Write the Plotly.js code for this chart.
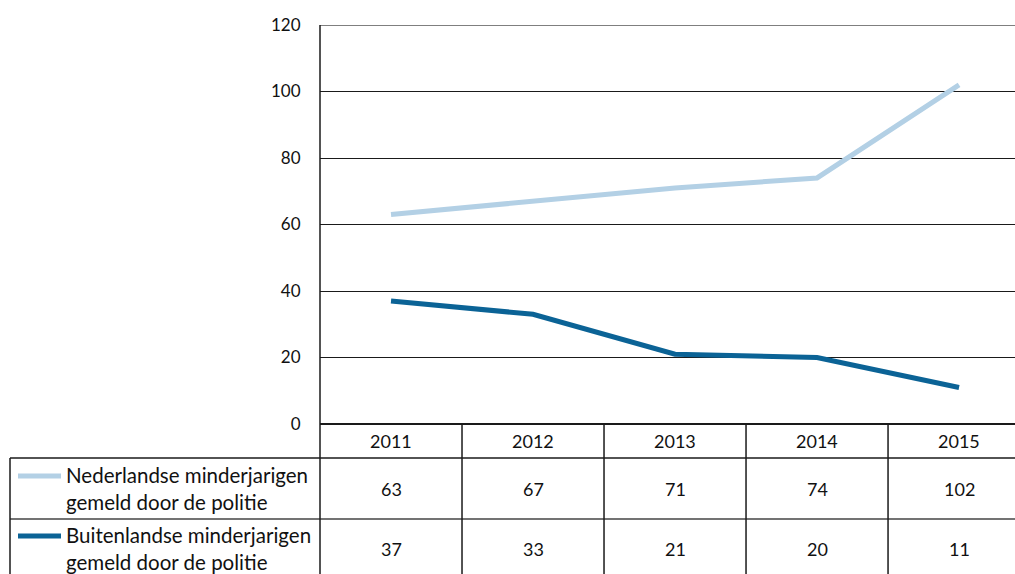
<!DOCTYPE html>
<html><head><meta charset="utf-8">
<script src="https://cdn.plot.ly/plotly-3.0.1.min.js"></script>
<style>html,body{margin:0;padding:0;background:#fff;}#chart{width:1015px;height:574px;}</style>
</head><body><div id="chart"></div>
<script>
var years = ['2011','2012','2013','2014','2015'];
var seriesNames = ['Nederlandse minderjarigen<br>gemeld door de politie','Buitenlandse minderjarigen<br>gemeld door de politie'];
var nederlandse = [63, 67, 71, 74, 102];
var buitenlandse = [37, 33, 21, 20, 11];
var yTicks = [0, 20, 40, 60, 80, 100, 120];

var colors = ['#b3d0e5', '#0b6396'];
var allSeries = [nederlandse, buitenlandse];
var xIdx = years.map(function(_, i){ return i; });

var traces = allSeries.map(function(vals, k){
  return {x: xIdx, y: vals, type: 'scatter', mode: 'lines', name: seriesNames[k],
    line: {color: colors[k], width: 5}, hoverinfo: 'skip'};
});

var plotH = 399, plotL = 320, plotW = 695;
function py(pix){ return (424 - pix) / plotH; }
function px(pix){ return (pix - plotL) / plotW; }

var rowTop = py(458), rowMid = py(519), rowBot = py(600);
var legL = px(10);
var lineC = '#1a1a1a';
var shapes = [];
shapes.push({type:'line', xref:'paper', yref:'y', x0:0, x1:1.02, y0:120, y1:120, line:{color:'#555', width:1.5}});
shapes.push({type:'line', xref:'paper', yref:'paper', x0:legL, x1:1.02, y0:rowTop, y1:rowTop, line:{color:lineC, width:1.5}});
shapes.push({type:'line', xref:'paper', yref:'paper', x0:legL, x1:1.02, y0:rowMid, y1:rowMid, line:{color:'#444', width:1.5}});
shapes.push({type:'line', xref:'paper', yref:'paper', x0:legL, x1:legL, y0:rowTop, y1:rowBot, line:{color:lineC, width:1.5}});
shapes.push({type:'line', xref:'paper', yref:'paper', x0:0, x1:0, y0:rowBot, y1:1, line:{color:lineC, width:1.5}});
for (var i = 0; i < years.length; i++) {
  shapes.push({type:'line', xref:'x', yref:'paper', x0:i+0.5, x1:i+0.5, y0:rowBot, y1:0, line:{color:lineC, width:1.5}});
}
for (var k = 0; k < 2; k++) {
  var yy = k === 0 ? py(476) : py(536);
  shapes.push({type:'line', xref:'paper', yref:'paper', x0:px(18), x1:px(61), y0:yy, y1:yy, line:{color:colors[k], width:5}});
}

var annotations = [];
var fam = 'Lato, "Open Sans", sans-serif';
var fontTxt = {family:fam, size:18, color:'#111'};
years.forEach(function(yr, i){
  annotations.push({xref:'x', yref:'paper', x:i, y:py(441), text:yr, showarrow:false, font:fontTxt, xanchor:'center', yanchor:'middle'});
  annotations.push({xref:'x', yref:'paper', x:i, y:py(489), text:String(nederlandse[i]), showarrow:false, font:fontTxt, xanchor:'center', yanchor:'middle'});
  annotations.push({xref:'x', yref:'paper', x:i, y:py(549), text:String(buitenlandse[i]), showarrow:false, font:fontTxt, xanchor:'center', yanchor:'middle'});
});
seriesNames.forEach(function(n, k){
  annotations.push({xref:'paper', yref:'paper', x:px(64), y:k===0?py(488):py(548), text:n, showarrow:false,
    font:{family:fam, size:20.5, color:'#111'}, xanchor:'left', yanchor:'middle', align:'left'});
});

var layout = {
  width: 1015, height: 574,
  margin: {l: 320, r: 0, t: 25, b: 150, pad: 0},
  paper_bgcolor: '#fff', plot_bgcolor: '#fff',
  showlegend: false,
  xaxis: {range: [-0.5, 4.394], showticklabels: false, showgrid: false, zeroline: false, showline: false, ticks: '', fixedrange: true},
  yaxis: {range: [0, 120], tickvals: yTicks, ticktext: yTicks.map(String), showgrid: true, gridcolor: '#1a1a1a', gridwidth: 1,
    zeroline: true, zerolinecolor: '#1a1a1a', zerolinewidth: 1.5, showline: false,
    ticks: 'outside', ticklen: 15, tickcolor: 'rgba(0,0,0,0)',
    tickfont: {family:fam, size:17, color:'#111'}, fixedrange: true},
  shapes: shapes,
  annotations: annotations
};
Plotly.newPlot('chart', traces, layout, {displayModeBar: false, staticPlot: true});
</script></body></html>
